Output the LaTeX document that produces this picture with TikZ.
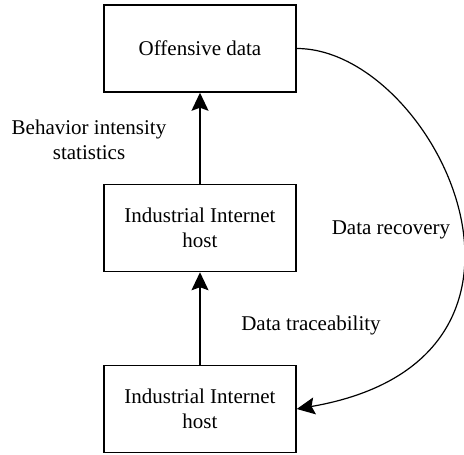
\documentclass[tikz,border=0pt]{standalone}
\usepackage{fontspec}
\setmainfont{Liberation Serif}
\usetikzlibrary{arrows.meta}
\begin{document}
\begin{tikzpicture}[%
    x=1pt,y=-1pt,
    font=\fontsize{21}{25}\selectfont,
    box/.style={rectangle,draw,line width=1.5pt,minimum width=192pt,minimum height=87pt,inner sep=0pt,align=center},
    tip/.style={-{Stealth[length=18pt,width=17pt,inset=3pt]}}
  ]
		\useasboundingbox (0,0) rectangle (464,455);

		\node at (200,48.5) [box] (off) {Offensive data};

		\node at (200,228) [box] (host1) {Industrial Internet\\host}
			edge[tip,line width=1.5pt] (off);
		\node at (200,409) [box] (host2) {Industrial Internet\\host}
			edge[tip,line width=1.5pt] (host1);

		\node at (89,140) [align=center] (stat) {Behavior intensity\\statistics};
		\node at (311,325) (trace) {Data traceability};
		\node at (391,230) (recov) {Data recovery};

		\draw[tip,line width=1.2pt] (off.east) .. controls +(138,0) and +(290,-50) .. (host2.east);
	\end{tikzpicture}
\end{document}
